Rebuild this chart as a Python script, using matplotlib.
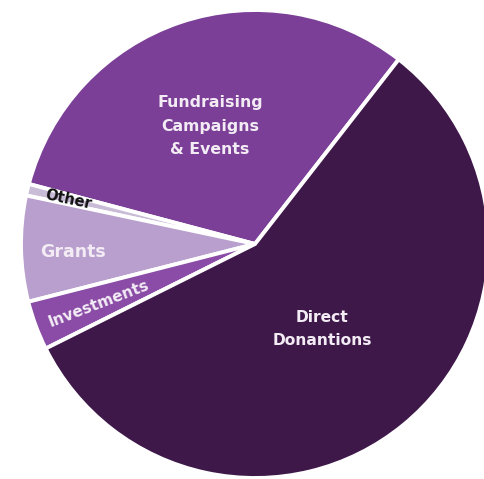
import matplotlib.pyplot as plt

# Revenue sources (share of total, %)
labels = ["Fundraising\nCampaigns\n& Events", "Other", "Grants", "Investments", "Direct\nDonantions"]
shares = [31.4, 0.8, 7.3, 3.4, 57.1]
colors = ["#7b3f98", "#c9bcd6", "#b89fcd", "#8a4ca6", "#3d1849"]

W, H = 485, 479
fig = plt.figure(figsize=(W / 100, H / 100), dpi=100)

# pie centre and radius in pixels
cx, cy, r = 255, 244, 234
ax = fig.add_axes([(cx - r) / W, (H - cy - r) / H, 2 * r / W, 2 * r / H])

wedges, _ = ax.pie(shares, colors=colors, startangle=52.1, counterclock=True,
                   radius=1, wedgeprops=dict(edgecolor="white", linewidth=2.8))
ax.set_xlim(-1, 1)
ax.set_ylim(-1, 1)
ax.axis("off")


def px(x, y):
    # pixel position -> data coordinates of the pie axes
    return (x - cx) / r, (cy - y) / r


font = dict(family=["DejaVu Sans"], fontweight="bold", ha="center", va="center")

ax.text(*px(210, 126), labels[0], color="#f3ecf5", fontsize=11.3, linespacing=1.7, **font)
ax.text(*px(68, 200), labels[1], color="#111111", fontsize=10.5, rotation=-12, **font)
ax.text(*px(73, 252), labels[2], color="#f3ecf5", fontsize=12.5, **font)
ax.text(*px(99, 304), labels[3], color="#f3ecf5", fontsize=11, rotation=21, **font)
ax.text(*px(322, 329), labels[4], color="#f3ecf5", fontsize=11.2, linespacing=1.7, **font)

fig.savefig("out.png", dpi=100)
